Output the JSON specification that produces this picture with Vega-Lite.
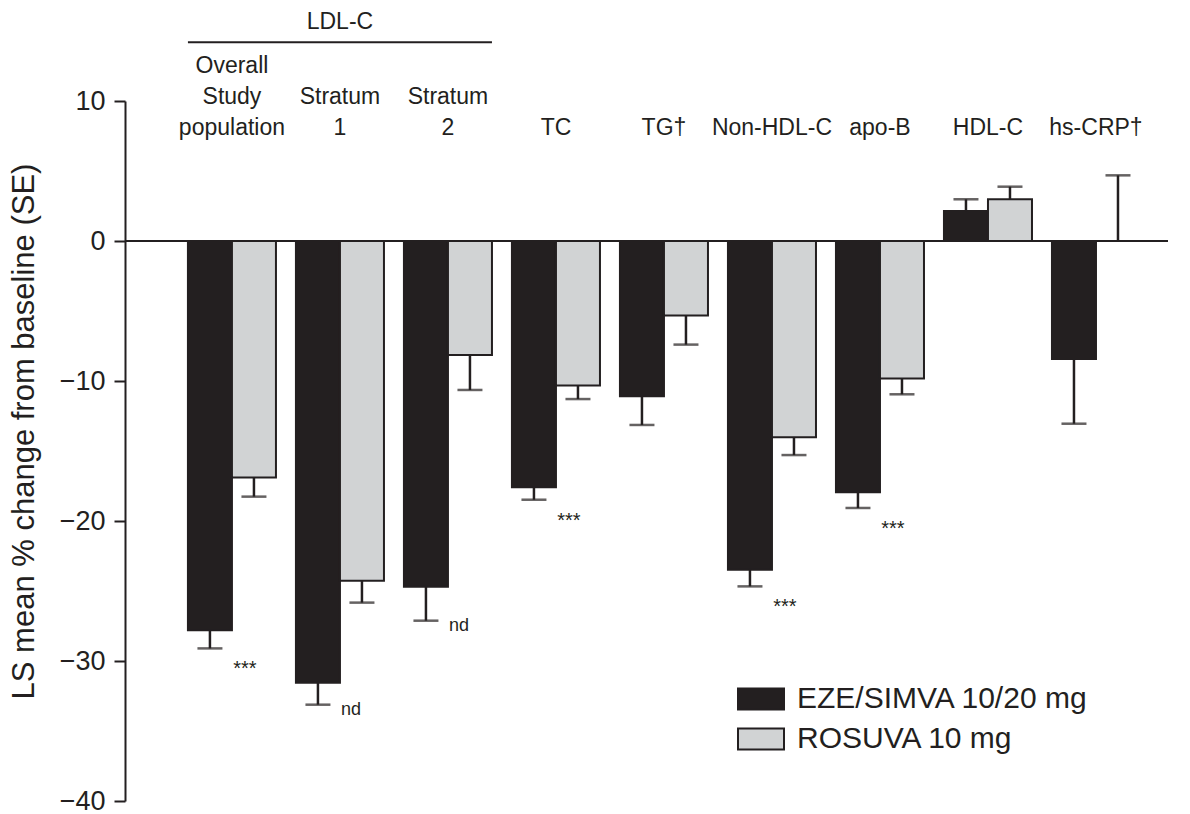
{
  "$schema": "https://vega.github.io/schema/vega-lite/v6.json",
  "autosize": "none",
  "width": 1043,
  "height": 700,
  "padding": {"left": 125, "top": 101, "right": 22, "bottom": 13},
  "background": "white",
  "config": {
    "view": {"stroke": null},
    "font": "Liberation Sans",
    "text": {"font": "Liberation Sans", "color": "#231f20"}
  },
  "datasets": {
    "bars": [
      {"marker": "LDL-C overall", "treatment": "EZE/SIMVA 10/20 mg", "value": -27.8, "err": -29.1, "note": "***"},
      {"marker": "LDL-C overall", "treatment": "ROSUVA 10 mg", "value": -16.9, "err": -18.26, "note": ""},
      {"marker": "LDL-C stratum 1", "treatment": "EZE/SIMVA 10/20 mg", "value": -31.55, "err": -33.12, "note": "nd"},
      {"marker": "LDL-C stratum 1", "treatment": "ROSUVA 10 mg", "value": -24.26, "err": -25.83, "note": ""},
      {"marker": "LDL-C stratum 2", "treatment": "EZE/SIMVA 10/20 mg", "value": -24.69, "err": -27.12, "note": "nd"},
      {"marker": "LDL-C stratum 2", "treatment": "ROSUVA 10 mg", "value": -8.14, "err": -10.64, "note": ""},
      {"marker": "TC", "treatment": "EZE/SIMVA 10/20 mg", "value": -17.59, "err": -18.48, "note": "***"},
      {"marker": "TC", "treatment": "ROSUVA 10 mg", "value": -10.33, "err": -11.29, "note": ""},
      {"marker": "TG", "treatment": "EZE/SIMVA 10/20 mg", "value": -11.09, "err": -13.14, "note": ""},
      {"marker": "TG", "treatment": "ROSUVA 10 mg", "value": -5.33, "err": -7.4, "note": ""},
      {"marker": "Non-HDL-C", "treatment": "EZE/SIMVA 10/20 mg", "value": -23.48, "err": -24.67, "note": "***"},
      {"marker": "Non-HDL-C", "treatment": "ROSUVA 10 mg", "value": -14.02, "err": -15.29, "note": ""},
      {"marker": "apo-B", "treatment": "EZE/SIMVA 10/20 mg", "value": -17.95, "err": -19.07, "note": "***"},
      {"marker": "apo-B", "treatment": "ROSUVA 10 mg", "value": -9.83, "err": -10.95, "note": ""},
      {"marker": "HDL-C", "treatment": "EZE/SIMVA 10/20 mg", "value": 2.14, "err": 2.98, "note": ""},
      {"marker": "HDL-C", "treatment": "ROSUVA 10 mg", "value": 2.98, "err": 3.88, "note": ""},
      {"marker": "hs-CRP", "treatment": "EZE/SIMVA 10/20 mg", "value": -8.43, "err": -13.05, "note": ""},
      {"marker": "hs-CRP", "treatment": "ROSUVA 10 mg", "value": 0, "err": 4.69, "note": ""}
    ],
    "headers": [
      {"marker": "LDL-C overall", "top": "Overall", "mid": "Study", "bottom": "population"},
      {"marker": "LDL-C stratum 1", "top": "", "mid": "Stratum", "bottom": "1"},
      {"marker": "LDL-C stratum 2", "top": "", "mid": "Stratum", "bottom": "2"},
      {"marker": "TC", "top": "", "mid": "", "bottom": "TC"},
      {"marker": "TG", "top": "", "mid": "", "bottom": "TG†"},
      {"marker": "Non-HDL-C", "top": "", "mid": "", "bottom": "Non-HDL-C"},
      {"marker": "apo-B", "top": "", "mid": "", "bottom": "apo-B"},
      {"marker": "HDL-C", "top": "", "mid": "", "bottom": "HDL-C"},
      {"marker": "hs-CRP", "top": "", "mid": "", "bottom": "hs-CRP†"}
    ],
    "group": [
      {"first": "LDL-C overall", "middle": "LDL-C stratum 1", "last": "LDL-C stratum 2", "label": "LDL-C"}
    ]
  },
  "layer": [
    {
      "data": {"name": "bars"},
      "mark": {"type": "bar", "stroke": "#231f20", "strokeWidth": 2},
      "encoding": {
        "x": {
          "field": "marker", "type": "nominal",
          "scale": {
            "domain": ["LDL-C overall", "LDL-C stratum 1", "LDL-C stratum 2", "TC", "TG", "Non-HDL-C", "apo-B", "HDL-C", "hs-CRP"],
            "paddingInner": 0.185, "paddingOuter": 0.421, "align": 0.692
          },
          "axis": null
        },
        "xOffset": {
          "field": "treatment", "type": "nominal",
          "scale": {"domain": ["EZE/SIMVA 10/20 mg", "ROSUVA 10 mg"], "paddingInner": 0, "paddingOuter": 0}
        },
        "y": {
          "field": "value", "type": "quantitative",
          "scale": {"domain": [-40, 10], "nice": false, "zero": false},
          "axis": {
            "title": "LS mean % change from baseline (SE)",
            "values": [-40, -30, -20, -10, 0, 10],
            "grid": false,
            "domainColor": "#231f20", "domainWidth": 2,
            "tickColor": "#231f20", "tickWidth": 2, "tickSize": 11,
            "labelFontSize": 27, "labelColor": "#231f20", "labelPadding": 9,
            "labelFont": "Liberation Sans",
            "titleFont": "Liberation Sans", "titleFontSize": 31, "titleFontWeight": "normal",
            "titleColor": "#231f20", "titlePadding": 19, "titleY": 330
          }
        },
        "color": {
          "field": "treatment", "type": "nominal",
          "scale": {"domain": ["EZE/SIMVA 10/20 mg", "ROSUVA 10 mg"], "range": ["#231f20", "#d1d3d4"]},
          "legend": {
            "title": null,
            "orient": "none",
            "legendX": 612,
            "legendY": 574,
            "symbolType": "M-1,-0.46H1V0.46H-1Z",
            "symbolSize": 2116,
            "symbolStrokeColor": "#231f20",
            "symbolStrokeWidth": 2,
            "labelFontSize": 30,
            "labelFont": "Liberation Sans",
            "labelColor": "#231f20",
            "labelOffset": 12,
            "rowPadding": 1,
            "labelLimit": 400
          }
        }
      }
    },
    {
      "data": {"name": "bars"},
      "mark": {"type": "rule", "color": "#231f20", "strokeWidth": 2.5},
      "encoding": {
        "x": {"field": "marker", "type": "nominal"},
        "xOffset": {"field": "treatment", "type": "nominal"},
        "y": {"field": "value", "type": "quantitative"},
        "y2": {"field": "err"}
      }
    },
    {
      "data": {"name": "bars"},
      "mark": {"type": "tick", "color": "#231f20", "thickness": 2.5, "size": 25, "orient": "horizontal"},
      "encoding": {
        "x": {"field": "marker", "type": "nominal"},
        "xOffset": {"field": "treatment", "type": "nominal"},
        "y": {"field": "err", "type": "quantitative"}
      }
    },
    {
      "data": {"values": [{}]},
      "mark": {"type": "rule", "color": "#231f20", "strokeWidth": 2},
      "encoding": {"y": {"datum": 0}}
    },
    {
      "data": {"name": "bars"},
      "transform": [{"filter": "datum.note === '***'"}],
      "mark": {"type": "text", "fontSize": 20, "align": "center", "baseline": "middle", "dx": 35, "dy": 21},
      "encoding": {
        "x": {"field": "marker", "type": "nominal"},
        "xOffset": {"field": "treatment", "type": "nominal"},
        "y": {"field": "err", "type": "quantitative"},
        "text": {"field": "note"}
      }
    },
    {
      "data": {"name": "bars"},
      "transform": [{"filter": "datum.note === 'nd'"}],
      "mark": {"type": "text", "fontSize": 18, "align": "left", "baseline": "middle", "dx": 23, "dy": 5},
      "encoding": {
        "x": {"field": "marker", "type": "nominal"},
        "xOffset": {"field": "treatment", "type": "nominal"},
        "y": {"field": "err", "type": "quantitative"},
        "text": {"field": "note"}
      }
    },
    {
      "data": {"name": "headers"},
      "mark": {"type": "text", "fontSize": 23, "align": "center", "baseline": "alphabetic", "dy": -28},
      "encoding": {
        "x": {"field": "marker", "type": "nominal"},
        "y": {"datum": 10},
        "text": {"field": "top"}
      }
    },
    {
      "data": {"name": "headers"},
      "mark": {"type": "text", "fontSize": 23, "align": "center", "baseline": "alphabetic", "dy": 3},
      "encoding": {
        "x": {"field": "marker", "type": "nominal"},
        "y": {"datum": 10},
        "text": {"field": "mid"}
      }
    },
    {
      "data": {"name": "headers"},
      "mark": {"type": "text", "fontSize": 23, "align": "center", "baseline": "alphabetic", "dy": 34},
      "encoding": {
        "x": {"field": "marker", "type": "nominal"},
        "y": {"datum": 10},
        "text": {"field": "bottom"}
      }
    },
    {
      "data": {"name": "group"},
      "mark": {"type": "rule", "color": "#231f20", "strokeWidth": 2},
      "encoding": {
        "x": {"field": "first", "type": "nominal", "bandPosition": 0},
        "x2": {"field": "last", "bandPosition": 1},
        "y": {"datum": 14.2}
      }
    },
    {
      "data": {"name": "group"},
      "mark": {"type": "text", "fontSize": 23, "align": "center", "baseline": "middle", "dy": -79},
      "encoding": {
        "x": {"field": "middle", "type": "nominal"},
        "y": {"datum": 10},
        "text": {"field": "label"}
      }
    }
  ]
}
